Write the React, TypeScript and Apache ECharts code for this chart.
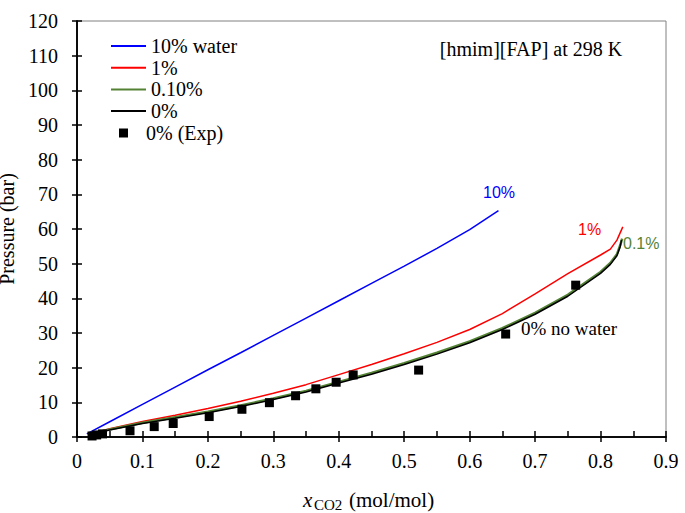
import React, { useEffect, useRef } from "react";
import * as echarts from "echarts";

const xTicks = [0, 0.1, 0.2, 0.3, 0.4, 0.5, 0.6, 0.7, 0.8, 0.9];
const yTicks = [0, 10, 20, 30, 40, 50, 60, 70, 80, 90, 100, 110, 120];

const x10 = [0.015, 0.05, 0.1, 0.15, 0.2, 0.25, 0.3, 0.35, 0.4, 0.45, 0.5, 0.55, 0.6, 0.644];
const p10 = [0.9, 4.4, 9.4, 14.4, 19.4, 24.3, 29.3, 34.3, 39.3, 44.3, 49.3, 54.4, 59.8, 65.3];

const x1 = [0.02, 0.05, 0.1, 0.15, 0.2, 0.25, 0.3, 0.35, 0.4, 0.45, 0.5, 0.55, 0.6, 0.65, 0.7, 0.75, 0.8, 0.815, 0.825, 0.834];
const p1 = [0.9, 2.4, 4.5, 6.3, 8.2, 10.3, 12.6, 15.1, 18.0, 20.9, 24.0, 27.3, 31.0, 35.6, 41.3, 47.1, 52.5, 54.2, 56.8, 60.6];

const x01 = [0.02, 0.05, 0.1, 0.15, 0.2, 0.25, 0.3, 0.35, 0.4, 0.45, 0.5, 0.55, 0.6, 0.65, 0.7, 0.75, 0.8, 0.815, 0.825, 0.83, 0.833];
const p01 = [0.9, 2.2, 4.1, 5.7, 7.3, 9.1, 11.1, 13.3, 15.9, 18.5, 21.3, 24.3, 27.6, 31.4, 35.8, 41.0, 47.6, 50.2, 52.7, 55.3, 57.2];

const x0 = [0.02, 0.05, 0.1, 0.15, 0.2, 0.25, 0.3, 0.35, 0.4, 0.45, 0.5, 0.55, 0.6, 0.65, 0.7, 0.75, 0.8, 0.815, 0.825, 0.83, 0.832];
const p0 = [0.8, 2.0, 3.9, 5.4, 7.0, 8.8, 10.8, 13.0, 15.6, 18.1, 20.9, 23.9, 27.2, 31.0, 35.4, 40.6, 47.2, 49.8, 52.3, 54.9, 56.8];

const xExp = [0.023, 0.03, 0.039, 0.081, 0.118, 0.147, 0.202, 0.252, 0.294, 0.334, 0.365, 0.396, 0.422, 0.522, 0.655, 0.762];
const pExp = [0.3, 0.6, 0.9, 1.8, 3.0, 3.9, 5.9, 8.0, 9.9, 11.9, 13.9, 15.8, 17.9, 19.3, 29.7, 43.8];

const names = ["10% water", "1%", "0.10%", "0%", "0% (Exp)"];

const SERIF = "Times New Roman, Liberation Serif, serif";
const SANS = "Liberation Sans";

const zip = (xs: number[], ys: number[]) => xs.map((x, i) => [x, ys[i]]);

export default function App() {
  const ref = useRef<HTMLDivElement>(null);
  useEffect(() => {
    if (!ref.current) return;
    const chart = echarts.init(ref.current, undefined, { renderer: "svg" });
    const axisBase = {
      min: 0,
      splitLine: { show: false },
      axisLine: { show: true, lineStyle: { color: "#000", width: 1.5 } },
    };
    const lineSeries = (name: string, data: number[][], color: string, width: number) => ({
      type: "line",
      name,
      data,
      symbol: "none",
      smooth: false,
      lineStyle: { color, width },
      itemStyle: { color },
      xAxisIndex: 0,
      yAxisIndex: 0,
    });
    chart.setOption({
      animation: false,
      backgroundColor: "#fff",
      textStyle: { fontFamily: SERIF },
      grid: {
        left: 77,
        right: 19,
        top: 21,
        bottom: 76,
        show: true,
        borderColor: "#808080",
        borderWidth: 1,
        outerBoundsMode: "none",
      },
      xAxis: [
        {
          ...axisBase,
          type: "value",
          max: xTicks[xTicks.length - 1],
          interval: 0.1,
          position: "bottom",
          axisTick: { show: true, inside: false, length: 5, lineStyle: { color: "#000", width: 1.5 } },
          axisLabel: {
            fontFamily: SERIF,
            fontSize: 20,
            color: "#000",
            margin: 14,
            formatter: (v: number) => String(+v.toFixed(1)),
          },
        },
        {
          ...axisBase,
          type: "value",
          max: xTicks[xTicks.length - 1],
          interval: 0.1,
          position: "bottom",
          axisTick: { show: true, inside: true, length: 6, lineStyle: { color: "#000", width: 1.5 } },
          minorTick: { show: true, splitNumber: 2, length: 6, lineStyle: { color: "#000", width: 1.5 } },
          axisLabel: { show: false },
        },
      ],
      yAxis: [
        {
          ...axisBase,
          type: "value",
          max: yTicks[yTicks.length - 1],
          interval: 10,
          position: "left",
          name: "Pressure (bar)",
          nameLocation: "middle",
          nameGap: 50,
          nameTextStyle: { fontFamily: SERIF, fontSize: 20, color: "#000" },
          axisTick: { show: true, inside: false, length: 5, lineStyle: { color: "#000", width: 1.5 } },
          axisLabel: { fontFamily: SERIF, fontSize: 20, color: "#000", margin: 19 },
        },
        {
          ...axisBase,
          type: "value",
          max: yTicks[yTicks.length - 1],
          interval: 10,
          position: "left",
          axisTick: { show: true, inside: true, length: 5, lineStyle: { color: "#000", width: 1.5 } },
          axisLabel: { show: false },
        },
      ],
      legend: [
        {
          data: names.slice(0, 4),
          orient: "vertical",
          left: 105,
          top: 31,
          itemWidth: 35,
          itemHeight: 14,
          itemGap: 1.7,
          itemStyle: { opacity: 0 },
          textStyle: { fontFamily: SERIF, fontSize: 20, color: "#000" },
        },
        {
          data: [names[4]],
          orient: "vertical",
          left: 114,
          top: 118,
          itemWidth: 9,
          itemHeight: 9,
          icon: "rect",
          itemStyle: { opacity: 1 },
          textStyle: { fontFamily: SERIF, fontSize: 20, color: "#000", padding: [0, 0, 0, 13] },
        },
      ],
      graphic: [
        { type: "text", x: 531, y: 39, style: { text: "[hmim][FAP] at 298 K", textAlign: "center", fontFamily: SERIF, fontSize: 20, fill: "#000" } },
        { type: "text", x: 483, y: 184, style: { text: "10%", fontFamily: SANS, fontSize: 16, fill: "#0000FF" } },
        { type: "text", x: 578, y: 221, style: { text: "1%", fontFamily: SANS, fontSize: 16, fill: "#FF0000" } },
        { type: "text", x: 623, y: 235.5, style: { text: "0.1%", fontFamily: SANS, fontSize: 16, fill: "#548235" } },
        { type: "text", x: 521, y: 319, style: { text: "0% no water", fontFamily: SERIF, fontSize: 19, fill: "#000" } },
        { type: "text", x: 303, y: 489, style: { text: "x", fontFamily: SERIF, fontStyle: "italic", fontSize: 21, fill: "#000" } },
        { type: "text", x: 314, y: 497, style: { text: "CO2", fontFamily: SERIF, fontSize: 15, fill: "#000" } },
        { type: "text", x: 349, y: 489, style: { text: "(mol/mol)", fontFamily: SERIF, fontSize: 21, fill: "#000" } },
      ],
      series: [
        lineSeries(names[0], zip(x10, p10), "#0000FF", 1.5),
        lineSeries(names[1], zip(x1, p1), "#FF0000", 1.5),
        lineSeries(names[2], zip(x01, p01), "#548235", 2.5),
        lineSeries(names[3], zip(x0, p0), "#000000", 1.5),
        {
          type: "scatter",
          name: names[4],
          data: zip(xExp, pExp),
          symbol: "rect",
          symbolSize: 9,
          itemStyle: { color: "#000", opacity: 1 },
          xAxisIndex: 0,
          yAxisIndex: 0,
          z: 5,
        },
      ],
    });
    return () => chart.dispose();
  }, []);
  return <div ref={ref} style={{ width: 685, height: 513, position: "absolute", left: 0, top: 0 }} />;
}
